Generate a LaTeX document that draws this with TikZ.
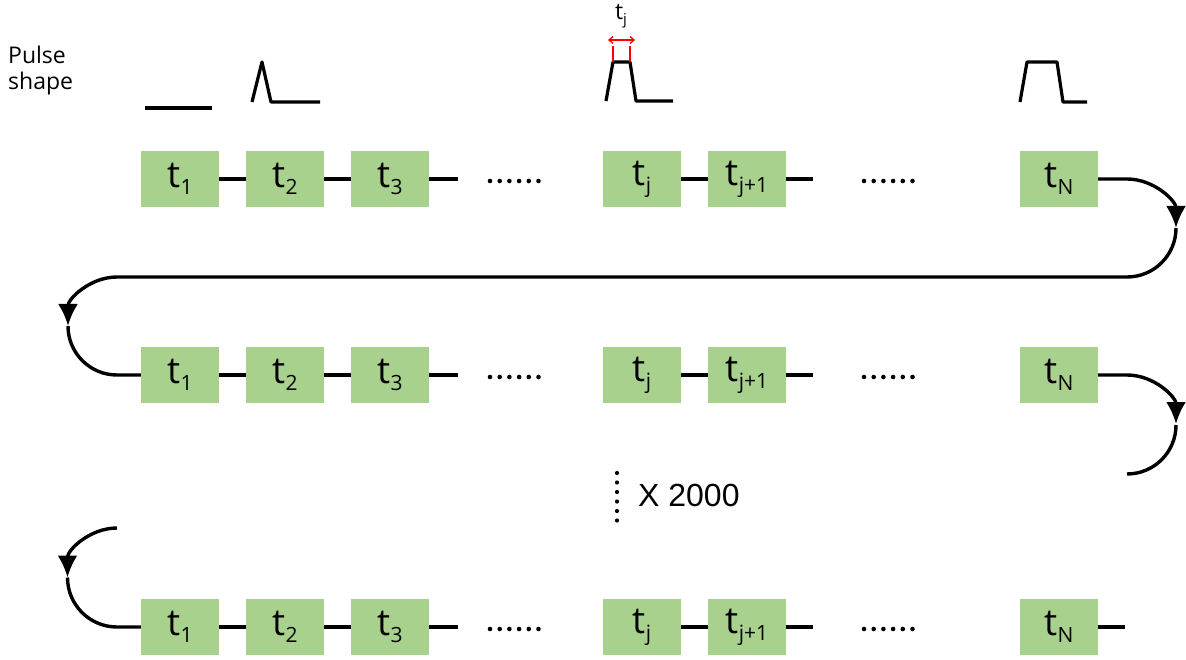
\documentclass[tikz,border=0pt]{standalone}
\usepackage{fontspec}
\setmainfont{Open Sans}
\newfontfamily\arialfont{Liberation Sans}
\usetikzlibrary{arrows.meta}
\definecolor{boxgreen}{HTML}{A9D18E}
\newcommand\tlab[1]{t\raisebox{-7pt}{\fontsize{21}{21}\selectfont #1}}
\begin{document}
\begin{tikzpicture}[x=1pt,y=1pt,
  tbox/.style={fill=boxgreen,minimum width=78pt,minimum height=56pt,inner sep=0pt,font=\fontsize{37}{42}\selectfont},
  link/.style={line width=3.4pt},
  pulse/.style={line width=3.2pt,line join=round},
  tipend/.style={-{Latex[length=22pt,width=20pt]}},
  dotfill/.style={fill=black}]
\useasboundingbox (0,0) rectangle (1186,-660);

% rows of boxes
\foreach \r/\y in {1/-179,2/-375,3/-627}{
  \node[tbox] (r\r-a) at (180,\y) {\tlab{1}};
  \node[tbox] (r\r-b) at (285,\y) {\tlab{2}};
  \node[tbox] (r\r-c) at (390,\y) {\tlab{3}};
  \node[tbox] (r\r-d) at (642,\y) {\tlab{j}};
  \node[tbox] (r\r-e) at (747,\y) {\tlab{j+1}};
  \node[tbox] (r\r-f) at (1059,\y) {\tlab{N}};
  \coordinate (r\r-cend) at (458,\y);
  \coordinate (r\r-eend) at (813,\y);
  \draw[link] (r\r-a.east) -- (r\r-b.west);
  \draw[link] (r\r-b.east) -- (r\r-c.west);
  \draw[link] (r\r-c.east) -- (r\r-cend);
  \draw[link] (r\r-d.east) -- (r\r-e.west);
  \draw[link] (r\r-e.east) -- (r\r-eend);
  \foreach \k in {0,...,5}{
    \fill[dotfill] ({490+9.7*\k},{\y-2}) circle (2.3);
    \fill[dotfill] ({864+9.7*\k},{\y-2}) circle (2.3);
  }
}

% row 1 -> row 2
\coordinate (a1) at (1127,-179);
\coordinate (a1r) at (1176,-228);
\coordinate (l1) at (117,-277);
\coordinate (l1m) at (68,-326);
\draw[link,tipend] (r1-f.east) -- (a1) arc[start angle=90,end angle=0,radius=49];
\draw[link] (a1r) arc[start angle=0,end angle=-90,radius=49] -- (l1);
\draw[link,tipend] (l1) arc[start angle=90,end angle=180,radius=49];
\draw[link] (l1m) arc[start angle=180,end angle=270,radius=49] -- (r2-a.west);

% row 2 -> continues
\coordinate (a2) at (1127,-375);
\coordinate (a2r) at (1176,-425);
\draw[link,tipend] (r2-f.east) -- (a2) arc[start angle=90,end angle=0,radius=49];
\draw[link] (a2r) arc[start angle=0,end angle=-90,radius=49];

% row 3 entry
\coordinate (l3) at (117,-528);
\coordinate (l3m) at (67.5,-577.5);
\draw[link,tipend] (l3) arc[start angle=90,end angle=180,radius=49.5];
\draw[link] (l3m) arc[start angle=180,end angle=270,radius=49.5] -- (r3-a.west);
\coordinate (r3-fend) at (1125,-627);
\draw[link] (r3-f.east) -- (r3-fend);

% repetition marker
\foreach \k in {0,...,5}{
  \fill[dotfill] (617,{-473-9.5*\k}) circle (2.1);
}
\node[anchor=west,font=\arialfont\fontsize{32}{36}\selectfont,inner sep=0pt] (rep) at (638,-495) {X 2000};

% pulse shapes
\node[anchor=north west,align=left,inner sep=0pt,font=\fontsize{23}{26}\selectfont] (ps) at (8,-46) {Pulse\\shape};
\draw[pulse] (145,-108) -- (212,-108);
\draw[pulse] (252,-102) -- (262,-62) -- (271,-102) -- (320,-102);
\draw[pulse] (606,-101) -- (613,-62) -- (630,-62) -- (636,-101) -- (673,-101);
\draw[pulse] (1020,-102) -- (1027,-62) -- (1057,-62) -- (1063,-102) -- (1087,-102);

% width annotation
\draw[red,line width=1.6pt] (613,-62) -- (613,-46);
\draw[red,line width=1.6pt] (630,-62) -- (630,-46);
\coordinate (wl) at (608,-40);
\coordinate (wr) at (635,-40);
\draw[red,line width=1.3pt,{Straight Barb[length=4pt,width=7pt]}-{Straight Barb[length=4pt,width=7pt]}] (wl) -- (wr);
\node[inner sep=0pt,font=\fontsize{23}{26}\selectfont] (tjlab) at (621,-16) {t\raisebox{-5pt}{\fontsize{15}{15}\selectfont j}};
\end{tikzpicture}
\end{document}
